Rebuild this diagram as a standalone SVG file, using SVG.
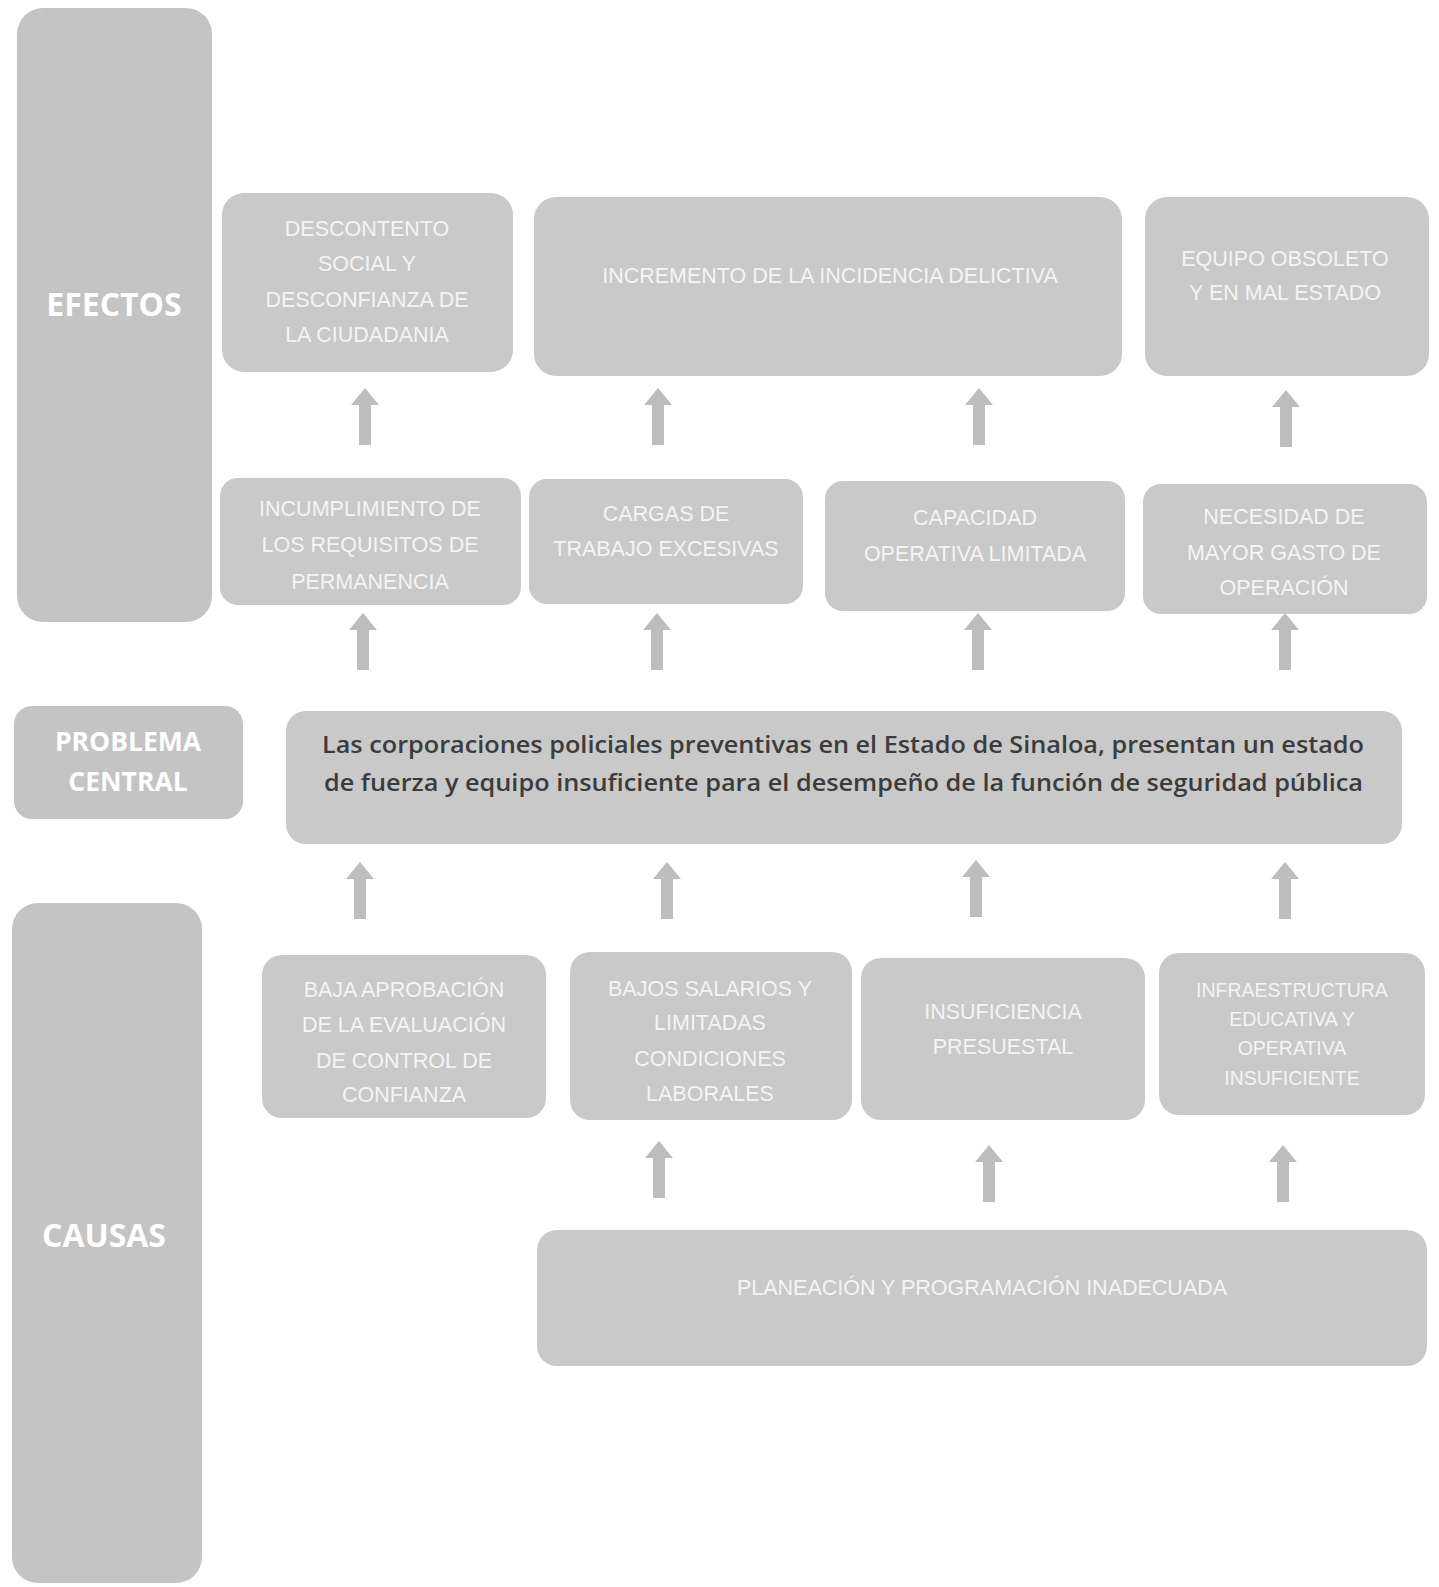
<svg xmlns="http://www.w3.org/2000/svg" width="1439" height="1587" viewBox="0 0 1439 1587">
<style>
.box{fill:#c9c9c9}
.col{fill:#c4c4c4}
.lbl{font-family:"Liberation Sans",Arial,sans-serif;font-size:21.5px;fill:#f4f4f4;text-anchor:middle}
.sm{font-size:19.5px}
.hd{font-family:"Open Sans","Liberation Sans",sans-serif;font-weight:bold;fill:#ffffff;text-anchor:middle}
.ctr{font-family:"Open Sans","Liberation Sans",sans-serif;font-weight:600;font-size:24px;fill:#3c3c3c}
.arrow{fill:#bdbdbd}
</style>
<defs>
<path id="arr" d="M0,0 L14,17 L6,17 L6,57 L-6,57 L-6,17 L-14,17 Z"/>
</defs>
<rect width="1439" height="1587" fill="#ffffff"/>

<g id="efectos">
<rect class="col" x="17" y="8" width="195" height="614" rx="26"/>
<text class="hd" x="114" y="316" font-size="32">EFECTOS</text>
</g>
<g id="problema-label">
<rect class="col" x="14" y="706" width="229" height="113" rx="18"/>
<text class="hd" x="128" y="751" font-size="26.5">PROBLEMA</text>
<text class="hd" x="128" y="791" font-size="26.5">CENTRAL</text>
</g>
<g id="causas">
<rect class="col" x="12" y="903" width="190" height="680" rx="26"/>
<text class="hd" x="104" y="1247" font-size="32">CAUSAS</text>
</g>

<g id="descontento">
<rect class="box" x="222" y="193" width="291" height="179" rx="22"/>
<text class="lbl" x="367" y="236">DESCONTENTO</text>
<text class="lbl" x="367" y="271">SOCIAL Y</text>
<text class="lbl" x="367" y="307">DESCONFIANZA DE</text>
<text class="lbl" x="367" y="342">LA CIUDADANIA</text>
</g>
<g id="incremento">
<rect class="box" x="534" y="197" width="588" height="179" rx="22"/>
<text class="lbl" x="830" y="283">INCREMENTO DE LA INCIDENCIA DELICTIVA</text>
</g>
<g id="equipo">
<rect class="box" x="1145" y="197" width="284" height="179" rx="22"/>
<text class="lbl" x="1285" y="266">EQUIPO OBSOLETO</text>
<text class="lbl" x="1285" y="300">Y EN MAL ESTADO</text>
</g>

<g id="incumplimiento">
<rect class="box" x="220" y="478" width="301" height="127" rx="18"/>
<text class="lbl" x="370" y="516">INCUMPLIMIENTO DE</text>
<text class="lbl" x="370" y="552">LOS REQUISITOS DE</text>
<text class="lbl" x="370" y="589">PERMANENCIA</text>
</g>
<g id="cargas">
<rect class="box" x="529" y="479" width="274" height="125" rx="18"/>
<text class="lbl" x="666" y="521">CARGAS DE</text>
<text class="lbl" x="666" y="556">TRABAJO EXCESIVAS</text>
</g>
<g id="capacidad">
<rect class="box" x="825" y="481" width="300" height="130" rx="18"/>
<text class="lbl" x="975" y="525">CAPACIDAD</text>
<text class="lbl" x="975" y="561">OPERATIVA LIMITADA</text>
</g>
<g id="necesidad">
<rect class="box" x="1143" y="484" width="284" height="130" rx="18"/>
<text class="lbl" x="1284" y="524">NECESIDAD DE</text>
<text class="lbl" x="1284" y="560">MAYOR GASTO DE</text>
<text class="lbl" x="1284" y="595">OPERACIÓN</text>
</g>

<g id="problema-central">
<rect class="box" x="286" y="711" width="1116" height="133" rx="20"/>
<text class="ctr" x="322" y="753" textLength="1042" lengthAdjust="spacingAndGlyphs">Las corporaciones policiales preventivas en el Estado de Sinaloa, presentan un estado</text>
<text class="ctr" x="324" y="791" textLength="1039" lengthAdjust="spacingAndGlyphs">de fuerza y equipo insuficiente para el desempeño de la función de seguridad pública</text>
</g>

<g id="baja">
<rect class="box" x="262" y="955" width="284" height="163" rx="20"/>
<text class="lbl" x="404" y="997">BAJA APROBACIÓN</text>
<text class="lbl" x="404" y="1032">DE LA EVALUACIÓN</text>
<text class="lbl" x="404" y="1068">DE CONTROL DE</text>
<text class="lbl" x="404" y="1102">CONFIANZA</text>
</g>
<g id="bajos">
<rect class="box" x="570" y="952" width="282" height="168" rx="20"/>
<text class="lbl" x="710" y="996">BAJOS SALARIOS Y</text>
<text class="lbl" x="710" y="1030">LIMITADAS</text>
<text class="lbl" x="710" y="1066">CONDICIONES</text>
<text class="lbl" x="710" y="1101">LABORALES</text>
</g>
<g id="insuficiencia">
<rect class="box" x="861" y="958" width="284" height="162" rx="20"/>
<text class="lbl" x="1003" y="1019">INSUFICIENCIA</text>
<text class="lbl" x="1003" y="1054">PRESUESTAL</text>
</g>
<g id="infraestructura">
<rect class="box" x="1159" y="953" width="266" height="162" rx="20"/>
<text class="lbl sm" x="1292" y="997">INFRAESTRUCTURA</text>
<text class="lbl sm" x="1292" y="1026">EDUCATIVA Y</text>
<text class="lbl sm" x="1292" y="1055">OPERATIVA</text>
<text class="lbl sm" x="1292" y="1085">INSUFICIENTE</text>
</g>

<g id="planeacion">
<rect class="box" x="537" y="1230" width="890" height="136" rx="20"/>
<text class="lbl" x="982" y="1295" font-size="22">PLANEACIÓN Y PROGRAMACIÓN INADECUADA</text>
</g>

<g id="connectors" class="arrow">
<use href="#arr" x="365" y="388"/>
<use href="#arr" x="658" y="388"/>
<use href="#arr" x="979" y="388"/>
<use href="#arr" x="1286" y="390"/>
<use href="#arr" x="363" y="613"/>
<use href="#arr" x="657" y="613"/>
<use href="#arr" x="978" y="613"/>
<use href="#arr" x="1285" y="613"/>
<use href="#arr" x="360" y="862"/>
<use href="#arr" x="667" y="862"/>
<use href="#arr" x="976" y="860"/>
<use href="#arr" x="1285" y="862"/>
<use href="#arr" x="659" y="1141"/>
<use href="#arr" x="989" y="1145"/>
<use href="#arr" x="1283" y="1145"/>
</g>
</svg>
